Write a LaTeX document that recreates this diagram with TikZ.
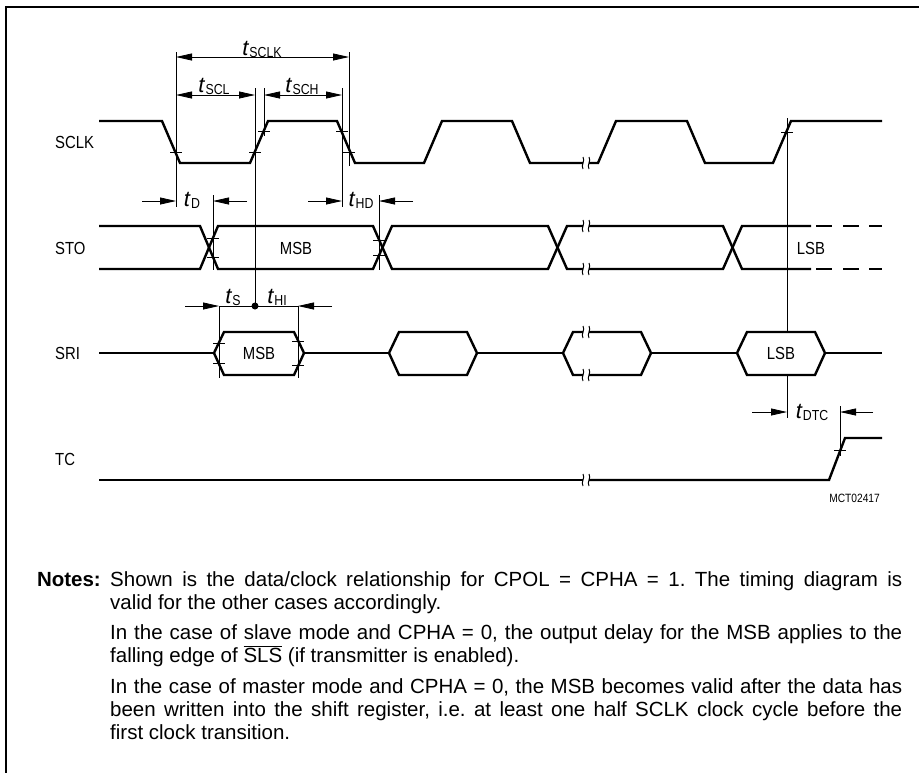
\documentclass[tikz,border=0pt]{standalone}
\usepackage{fontspec}
\setmainfont{Liberation Sans}
\newfontfamily\narrowfont{Liberation Sans}[FakeStretch=0.85]
\usetikzlibrary{arrows.meta}
\frenchspacing
\tikzset{
 wave/.style={line width=2.4pt},
 fine/.style={line width=0.8pt},
 dimr/.style={line width=0.8pt,-{Triangle[length=16pt,width=7pt]}},
 dimboth/.style={line width=0.8pt,{Triangle[length=16pt,width=7pt]}-{Triangle[length=16pt,width=7pt]}},
 lbl/.style={font=\narrowfont\fontsize{17.5}{17.5}\selectfont, inner sep=0pt},
 tlab/.style={inner sep=0pt, anchor=base},
 notefont/.style={font=\fontsize{20.5}{20.5}\selectfont, inner sep=0pt, anchor=base west},
}
\newcommand{\tsub}[1]{\fontsize{22}{22}\selectfont\textit{t}\kern0.3pt{\narrowfont\fontsize{14.5}{14.5}\selectfont\raisebox{-2pt}{#1}}}
\newcommand{\tk}[2]{\draw[fine] (#1-6,#2) -- (#1+6,#2);}
\newcommand{\brk}[2]{%
\draw[line width=1pt] (#1,#2-6) .. controls (#1+2.5,#2-2) and (#1-2.5,#2+2) .. (#1,#2+6);
\draw[line width=1pt] (#1+6,#2-6) .. controls (#1+8.5,#2-2) and (#1+3.5,#2+2) .. (#1+6,#2+6);}
\newcommand{\jl}[1]{\makebox[792pt][s]{#1}}
\newcommand{\dashes}[1]{\draw[wave] (816,#1) -- (832,#1) (843,#1) -- (859,#1) (869,#1) -- (882,#1);}
\begin{document}
\begin{tikzpicture}[x=1pt,y=-1pt]
\clip (0,0) rectangle (919,772);
\fill[white] (0,0) rectangle (919,772);
\draw[line width=2.3pt] (6,800) -- (6,7) -- (930,7);

% signal labels
\node[lbl,anchor=base west] (lsclk) at (55,148) {SCLK};
\node[lbl,anchor=base west] (lsto) at (55,254) {STO};
\node[lbl,anchor=base west] (lsri) at (55,359) {SRI};
\node[lbl,anchor=base west] (ltc) at (55,465) {TC};

% SCLK
\draw[wave] (99,121) -- (162,121) -- (180,163) -- (250,163) -- (268,121) -- (337,121) -- (355,163) -- (424,163) -- (442,121) -- (512,121) -- (530,163) -- (583,163);
\draw[wave] (589,163) -- (598,163) -- (616,121) -- (687,121) -- (705,163) -- (773,163) -- (791,121) -- (882,121);
\brk{583}{163}

% STO
\draw[wave] (99,226) -- (200,226) -- (218,269) -- (373,269) -- (392,226) -- (548,226) -- (567,269) -- (583,269);
\draw[wave] (99,269) -- (200,269) -- (218,226) -- (373,226) -- (392,269) -- (548,269) -- (567,226) -- (583,226);
\draw[wave] (589,269) -- (723,269) -- (742,226) -- (811,226);
\draw[wave] (589,226) -- (723,226) -- (742,269) -- (811,269);
\dashes{226}\dashes{269}
\brk{583}{226}\brk{583}{269}
\node[lbl] (stomsb) at (296,248) {MSB};
\node[lbl] (stolsb) at (811,248) {LSB};

% SRI
\draw[wave] (99,353) -- (214,353);
\draw[wave] (214,353) -- (224,332) -- (294,332) -- (304,353) -- (294,375) -- (224,375) -- cycle;
\draw[wave] (304,353) -- (389,353);
\draw[wave] (389,353) -- (399,332) -- (467,332) -- (477,353) -- (467,375) -- (399,375) -- cycle;
\draw[wave] (477,353) -- (563,353);
\draw[wave] (583,332) -- (573,332) -- (563,353) -- (573,375) -- (583,375);
\draw[wave] (589,332) -- (641,332) -- (651,353) -- (641,375) -- (589,375);
\brk{583}{332}\brk{583}{375}
\draw[wave] (651,353) -- (737,353);
\draw[wave] (737,353) -- (747,332) -- (815,332) -- (825,353) -- (815,375) -- (747,375) -- cycle;
\draw[wave] (825,353) -- (882,353);
\node[lbl] (srimsb) at (259,353) {MSB};
\node[lbl] (srilsb) at (781,353) {LSB};

% TC
\draw[wave] (99,480) -- (583,480);
\draw[wave] (589,480) -- (829,480) -- (845,438) -- (882,438);
\brk{583}{480}

% reference lines
\draw[fine] (176,52) -- (176,207);
\draw[fine] (349,52) -- (349,166);
\draw[fine] (255,88) -- (255,306);
\draw[fine] (264,88) -- (264,136);
\draw[fine] (342,88) -- (342,207);
\draw[fine] (787,118) -- (787,332);
\draw[fine] (787,375) -- (787,418);
\draw[fine] (213,195) -- (213,270);
\draw[fine] (379,195) -- (379,270);
\draw[fine] (219,306) -- (219,378);
\draw[fine] (298,306) -- (298,378);
\draw[fine] (840,406) -- (840,456);

% ticks
\tk{176}{152}\tk{255}{152}\tk{264}{131}\tk{342}{131}\tk{349}{152}\tk{787}{132}
\tk{213}{238}\tk{213}{257}\tk{379}{240}\tk{379}{255}
\tk{219}{343}\tk{219}{363}\tk{298}{341}\tk{298}{365}\tk{840}{450}

% dimension arrows
\draw[dimboth] (176,57) -- (349,57);
\draw[dimboth] (176,95) -- (255,95);
\draw[dimboth] (264,95) -- (342,95);
\draw[dimr] (142,201) -- (176,201);
\draw[dimr] (247,201) -- (213,201);
\draw[dimr] (308,201) -- (342,201);
\draw[dimr] (413,201) -- (379,201);
\draw[dimr] (185,306) -- (219,306);
\draw[fine] (219,306) -- (298,306);
\draw[dimr] (332,306) -- (298,306);
\fill (255,306) circle (3.5);
\draw[dimr] (752,412) -- (787,412);
\draw[dimr] (873,412) -- (840,412);

\node[tlab] (tsclk) at (262,55) {\tsub{SCLK}};
\node[tlab] (tscl) at (214,92) {\tsub{SCL}};
\node[tlab] (tsch) at (302,92) {\tsub{SCH}};
\node[tlab] (td) at (192,206) {\tsub{D}};
\node[tlab] (thd) at (361,206) {\tsub{HD}};
\node[tlab] (ts) at (233,303) {\tsub{S}};
\node[tlab] (thi) at (277,303) {\tsub{HI}};
\node[tlab] (tdtc) at (812,418) {\tsub{DTC}};

\node[inner sep=0pt,anchor=base east,font=\narrowfont\fontsize{12}{12}\selectfont] (mct) at (880,502) {MCT02417};

% notes
\node[inner sep=0pt,anchor=base east,font=\bfseries\fontsize{20.5}{20.5}\selectfont] (notes) at (101,586) {Notes:};
\node[notefont] (n1) at (110,586) {\jl{Shown is the data/clock relationship for CPOL = CPHA = 1. The timing diagram is}};
\node[notefont] (n2) at (110,609) {valid for the other cases accordingly.};
\node[notefont] (n3) at (110,639) {\jl{In the case of slave mode and CPHA = 0, the output delay for the MSB applies to the}};
\node[notefont] (n4) at (110,662) {falling edge of $\overline{\mbox{SLS}}$ (if transmitter is enabled).};
\node[notefont] (n5) at (110,693) {\jl{In the case of master mode and CPHA = 0, the MSB becomes valid after the data has}};
\node[notefont] (n6) at (110,716) {\jl{been written into the shift register, i.e. at least one half SCLK clock cycle before the}};
\node[notefont] (n7) at (110,739) {first clock transition.};
\end{tikzpicture}
\end{document}
